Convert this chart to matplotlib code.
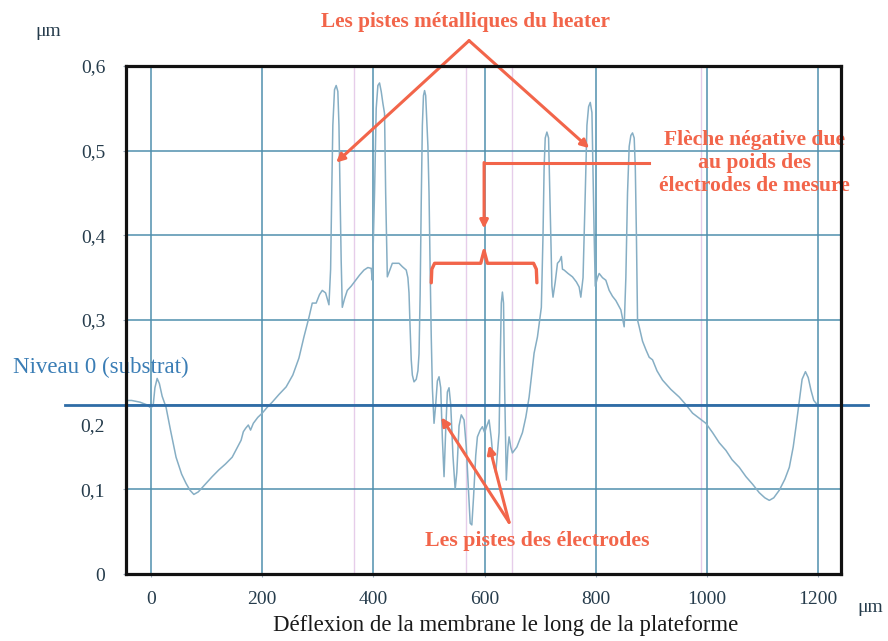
import numpy as np
import matplotlib
matplotlib.use("Agg")
import matplotlib.pyplot as plt

plt.rcParams['font.family'] = ['Liberation Serif', 'DejaVu Serif']

# profile of the membrane (um along the platform, um height)
pos = [-47, -35, -20, -8, 0, 4, 7, 11, 15, 20, 27, 35, 45, 55, 63, 70, 77, 85, 92, 99,
       110, 122, 134, 146, 154, 162, 166, 170, 175, 179, 184, 192, 200, 209, 218, 230, 243,
       255, 266, 275, 284, 290, 297, 303, 308, 314,
       320, 323, 325, 327, 330, 333, 336, 338, 340, 342, 344,
       348, 353, 360, 368, 375, 383, 390, 396,
       398, 402, 405, 408, 411, 414, 417, 420, 422, 425,
       430, 434, 440, 446, 452, 459, 462, 464, 466, 468, 470, 473, 477, 480,
       482, 484, 486, 488, 490, 492, 494, 496, 498, 500, 502, 504, 506, 509,
       512, 515, 518, 521, 524, 527, 530, 533, 536, 539, 543, 547, 550, 554, 558, 563,
       567, 571, 574, 577, 580, 584, 587, 592, 596, 600, 604, 608, 612, 616, 620, 624,
       626, 628, 630, 632, 634, 636, 639, 642, 644, 647, 650, 658, 668, 674, 680, 689,
       695, 702, 705, 707, 709, 712, 715, 717, 719, 721, 723, 727, 731, 735, 738, 740,
       743, 750, 758, 765, 770, 773, 777, 781, 784, 787, 790, 793, 795, 797, 799,
       803, 806, 812, 818, 824, 830, 836, 845, 851, 854, 857, 860, 863, 866, 869, 871,
       873, 875, 878, 884, 890, 896, 902, 910, 920, 935, 950, 962, 974, 986, 998, 1010,
       1022, 1034, 1045, 1058, 1070, 1082, 1094, 1104, 1112, 1120, 1130, 1140, 1148,
       1155, 1160, 1166, 1171, 1177, 1182, 1187, 1192, 1197]
height = [0.205, 0.205, 0.203, 0.200, 0.196, 0.200, 0.220, 0.231, 0.225, 0.210, 0.197,
          0.170, 0.138, 0.118, 0.107, 0.099, 0.094, 0.097, 0.102, 0.107,
          0.115, 0.123, 0.130, 0.138, 0.148, 0.158, 0.168, 0.172, 0.176, 0.170, 0.178,
          0.185, 0.190, 0.197, 0.203, 0.212, 0.221,
          0.235, 0.255, 0.280, 0.303, 0.320, 0.320, 0.330, 0.335, 0.332,
          0.318, 0.360, 0.450, 0.530, 0.572, 0.577, 0.570, 0.530, 0.450, 0.370, 0.315,
          0.325, 0.335, 0.340, 0.347, 0.353, 0.359, 0.362, 0.361,
          0.347, 0.450, 0.550, 0.577, 0.580, 0.570, 0.556, 0.544, 0.450, 0.351,
          0.360, 0.367, 0.367, 0.367, 0.363, 0.359, 0.350, 0.332, 0.290, 0.253, 0.235,
          0.227, 0.230, 0.240,
          0.260, 0.330, 0.440, 0.530, 0.565, 0.571, 0.565, 0.535, 0.505, 0.450, 0.360,
          0.280, 0.220, 0.178,
          0.200, 0.228, 0.233, 0.220, 0.160, 0.115, 0.170, 0.215, 0.220, 0.200, 0.140,
          0.100, 0.120, 0.175, 0.188, 0.182,
          0.150, 0.100, 0.060, 0.058, 0.090, 0.140, 0.162, 0.170, 0.174, 0.167, 0.175,
          0.182, 0.160, 0.130, 0.119, 0.150,
          0.167, 0.250, 0.320, 0.333, 0.320, 0.220, 0.111, 0.150, 0.162, 0.150, 0.143,
          0.150, 0.167, 0.185, 0.209, 0.261,
          0.280, 0.315, 0.400, 0.480, 0.515, 0.522, 0.515, 0.460, 0.400, 0.340, 0.327,
          0.345, 0.367, 0.370, 0.375, 0.360,
          0.359, 0.355, 0.351, 0.345, 0.339, 0.327, 0.350, 0.450, 0.530, 0.552, 0.557,
          0.545, 0.470, 0.400, 0.340,
          0.350, 0.355, 0.350, 0.347, 0.335, 0.328, 0.323, 0.312, 0.292, 0.350, 0.450,
          0.505, 0.518, 0.521, 0.515, 0.480,
          0.400, 0.300, 0.292, 0.275, 0.265, 0.256, 0.253, 0.240, 0.229, 0.218, 0.209,
          0.200, 0.190, 0.184, 0.178, 0.167,
          0.155, 0.146, 0.135, 0.126, 0.115, 0.106, 0.096, 0.090, 0.087, 0.090, 0.099,
          0.112, 0.126,
          0.150, 0.174, 0.205, 0.230, 0.239, 0.232, 0.217, 0.205, 0.201]

xticks = [0, 200, 400, 600, 800, 1000, 1200]
yticks = [0, 0.1, 0.2, 0.3, 0.4, 0.5, 0.6]
ylabels = ['0', '0,1', '', '0,3', '0,4', '0,5', '0,6']
pink_lines = [365, 567, 650, 990]
substrate = 0.2

red = '#f2654a'
grid_col = '#4f8fae'
tick_col = '#263c4c'

fig = plt.figure(figsize=(8.88, 6.41), dpi=100)
ax = fig.add_axes([0.1419, 0.1045, 0.8052, 0.7925])
ax.set_xlim(-45, 1241)
ax.set_ylim(0, 0.6)

for xp in pink_lines:
    ax.axvline(xp, color='#e6cdea', lw=1.0, zorder=1)
for xt in xticks:
    ax.axvline(xt, color=grid_col, lw=1.1, zorder=2)
for yt in yticks[1:-1]:
    ax.axhline(yt, color=grid_col, lw=1.1, zorder=2)

ax.plot(pos, height, color='#86aec4', lw=1.1, zorder=3)

# substrate level line, runs past the frame on both sides
ax.plot([-155, 1290], [substrate, substrate], color='#2f6ca6', lw=2.0,
        clip_on=False, zorder=4)
ax.text(-248, 0.2445, 'Niveau 0 (substrat)', color='#3a7db5', fontsize=16.5,
        ha='left', va='center')

ax.set_xticks(xticks)
ax.set_xticklabels([str(t) for t in xticks])
ax.set_yticks(yticks)
ax.set_yticklabels(ylabels)
ax.tick_params(axis='both', length=2, color='#9ab', labelsize=14, labelcolor=tick_col)
ax.tick_params(axis='x', pad=10)
ax.tick_params(axis='y', pad=13)
ax.annotate('0,2', xy=(0, substrate), xycoords=('axes fraction', 'data'),
            xytext=(-15, -16), textcoords='offset points', ha='right', va='center',
            fontsize=14, color=tick_col)

for sp in ax.spines.values():
    sp.set_linewidth(2.3)
    sp.set_color('#111111')
    sp.set_zorder(6)

# heater tracks
ax.text(565, 0.652, 'Les pistes métalliques du heater', color=red, fontsize=15.3,
        fontweight='bold', ha='center', va='center')
arr = dict(arrowstyle='-|>', color=red, lw=2.2, mutation_scale=12, shrinkA=0, shrinkB=0)
ax.annotate('', xy=(333, 0.486), xytext=(572, 0.630), arrowprops=arr, annotation_clip=False)
ax.annotate('', xy=(788, 0.503), xytext=(572, 0.630), arrowprops=arr, annotation_clip=False)

# electrode tracks
ax.text(694, 0.039, 'Les pistes des électrodes', color=red, fontsize=15.7,
        fontweight='bold', ha='center', va='center')
ax.annotate('', xy=(522, 0.185), xytext=(644, 0.061), arrowprops=arr)
ax.annotate('', xy=(608, 0.152), xytext=(644, 0.061), arrowprops=arr)

# negative deflection under the measuring electrodes
ax.plot([599, 896], [0.486, 0.486], color=red, lw=2.2, clip_on=False, zorder=5)
ax.annotate('', xy=(599, 0.408), xytext=(599, 0.486), arrowprops=arr)
bx = [504, 505, 510, 593, 599, 605, 688, 693, 694]
by = [0.344, 0.360, 0.367, 0.367, 0.382, 0.367, 0.367, 0.360, 0.344]
ax.plot(bx, by, color=red, lw=2.4, zorder=5, solid_capstyle='round')
ax.text(1086, 0.486, 'Flèche négative due\nau poids des\nélectrodes de mesure',
        color=red, fontsize=15.6, fontweight='bold', ha='center', va='center',
        linespacing=1.2, zorder=5)

fig.text(506 / 888, 1 - 625 / 641, 'Déflexion de la membrane le long de la plateforme',
         fontsize=16.4, color='#1a1a1a', ha='center', va='center')
fig.text(48 / 888, 1 - 32 / 641, 'μm', fontsize=14, color=tick_col, ha='center', va='center')
fig.text(870 / 888, 1 - 608 / 641, 'μm', fontsize=14, color=tick_col, ha='center', va='center')

fig.savefig('out.png', dpi=100)
